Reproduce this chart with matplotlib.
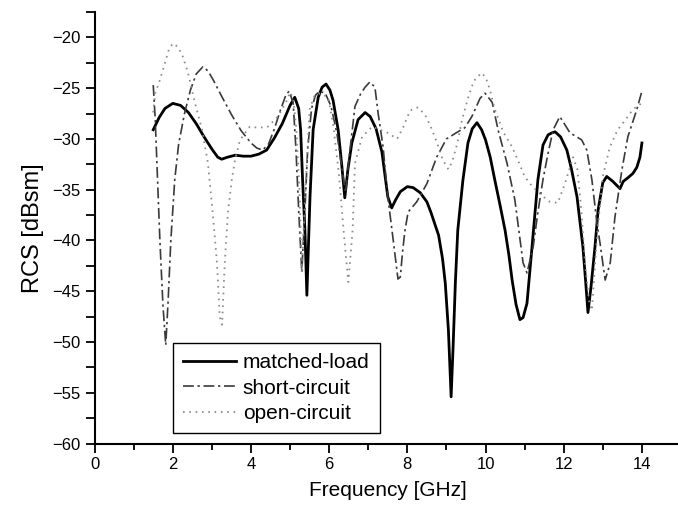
import matplotlib
matplotlib.use("Agg")
import matplotlib.pyplot as plt
from matplotlib.ticker import MultipleLocator

plt.rcParams['font.family'] = ['Liberation Sans', 'DejaVu Sans']

# matched-load
f_matched = [1.5, 1.65, 1.8, 2.0, 2.2, 2.4, 2.6, 2.8, 3.0, 3.15, 3.25, 3.4, 3.6, 3.8, 4.0,
             4.2, 4.4, 4.6, 4.8, 5.0, 5.12, 5.22, 5.27, 5.32, 5.38, 5.43, 5.47, 5.51, 5.59,
             5.72, 5.82, 5.92, 6.02, 6.1, 6.23, 6.32, 6.4, 6.48, 6.58, 6.74, 6.92, 7.05,
             7.2, 7.35, 7.5, 7.6, 7.7, 7.82, 8.0, 8.15, 8.33, 8.5, 8.6, 8.8, 8.9, 8.97,
             9.05, 9.12, 9.17, 9.23, 9.29, 9.42, 9.55, 9.66, 9.78, 9.9, 10.0, 10.12,
             10.24, 10.37, 10.5, 10.6, 10.68, 10.78, 10.88, 10.96, 11.06, 11.19, 11.34,
             11.47, 11.6, 11.7, 11.78, 11.92, 12.08, 12.2, 12.34, 12.49, 12.56, 12.62,
             12.7, 12.8, 12.88, 13.0, 13.1, 13.26, 13.44, 13.52, 13.65, 13.77, 13.87,
             13.95, 14.0]
rcs_matched = [-29.1, -27.9, -27.0, -26.5, -26.7, -27.4, -28.5, -29.8, -31.0, -31.8, -32.0,
               -31.8, -31.6, -31.7, -31.7, -31.5, -31.1, -29.9, -28.5, -26.7, -25.9, -27.0,
               -29.1, -34.0, -39.0, -45.4, -40.5, -35.7, -29.1, -25.9, -24.9, -24.6, -25.2,
               -26.2, -29.1, -32.5, -35.8, -33.0, -30.4, -28.1, -27.4, -27.8, -29.0, -31.3,
               -35.7, -36.8, -36.0, -35.2, -34.7, -34.8, -35.3, -36.2, -37.2, -39.5, -41.8,
               -44.2, -48.8, -55.4, -50.5, -44.0, -39.0, -34.1, -30.4, -29.0, -28.4, -29.1,
               -30.1, -31.8, -34.1, -36.5, -39.0, -41.5, -43.9, -46.3, -47.8, -47.6, -46.2,
               -40.6, -34.0, -30.6, -29.6, -29.4, -29.3, -29.8, -31.1, -33.0, -35.7, -40.6,
               -44.0, -47.1, -44.5, -40.6, -37.0, -34.3, -33.7, -34.2, -34.9, -34.2, -33.8,
               -33.4, -32.8, -31.8, -30.4]

# short-circuit
f_short = [1.5, 1.55, 1.6, 1.67, 1.75, 1.82, 1.88, 1.95, 2.05, 2.15, 2.3, 2.45, 2.6, 2.77,
           2.9, 3.05, 3.25, 3.5, 3.75, 4.0, 4.15, 4.3, 4.45, 4.6, 4.75, 4.9, 4.98, 5.08,
           5.15, 5.22, 5.3, 5.38, 5.45, 5.55, 5.65, 5.75, 5.9, 6.05, 6.2, 6.33, 6.42, 6.52,
           6.66, 6.8, 6.92, 7.04, 7.17, 7.25, 7.38, 7.5, 7.63, 7.76, 7.82, 7.88, 7.94, 8.02,
           8.24, 8.5, 8.75, 9.0, 9.25, 9.47, 9.65, 9.86, 9.99, 10.17, 10.32, 10.55, 10.75,
           10.96, 11.06, 11.22, 11.34, 11.47, 11.6, 11.73, 11.9, 12.16, 12.46, 12.59, 12.72,
           12.85, 12.93, 13.06, 13.19, 13.31, 13.49, 13.64, 13.87, 14.0]
rcs_short = [-24.7, -28.0, -33.0, -40.0, -46.5, -50.3, -46.0, -40.0, -34.0, -30.5, -27.5,
             -25.2, -23.6, -22.9, -23.3, -24.3, -25.8, -27.6, -29.2, -30.4, -30.9, -31.1,
             -30.5, -29.0, -27.2, -25.6, -25.3, -26.5, -31.0, -37.0, -43.1, -37.0, -31.0,
             -27.0, -25.7, -25.3, -25.5, -26.8, -29.5, -33.0, -35.3, -31.5, -26.8, -25.6,
             -24.9, -24.4, -24.9, -27.4, -30.8, -35.7, -39.7, -43.8, -43.6, -41.0, -39.0,
             -37.2, -36.2, -34.4, -31.8, -30.0, -29.4, -28.9, -27.8, -26.0, -25.5, -26.4,
             -29.1, -32.4, -36.0, -42.2, -43.2, -40.6, -37.2, -34.0, -31.4, -29.1, -27.8,
             -29.4, -30.1, -31.1, -34.0, -38.3, -40.3, -43.9, -42.2, -37.7, -33.0, -29.8,
             -27.1, -25.3]

# open-circuit
f_open = [1.5, 1.55, 1.67, 1.8, 1.9, 2.0, 2.12, 2.24, 2.39, 2.57, 2.75, 2.9, 3.03, 3.13,
          3.2, 3.26, 3.33, 3.41, 3.51, 3.59, 3.72, 3.97, 4.2, 4.43, 4.69, 4.92, 5.0, 5.08,
          5.16, 5.24, 5.3, 5.38, 5.5, 5.62, 5.77, 5.97, 6.1, 6.25, 6.38, 6.49, 6.6, 6.66,
          6.84, 7.1, 7.3, 7.5, 7.74, 7.9, 8.07, 8.27, 8.45, 8.6, 8.76, 8.9, 9.05, 9.15,
          9.28, 9.4, 9.55, 9.7, 9.89, 10.0, 10.1, 10.24, 10.45, 10.68, 10.85, 11.0, 11.2,
          11.45, 11.65, 11.85, 12.03, 12.24, 12.35, 12.45, 12.55, 12.65, 12.72, 12.85,
          13.0, 13.18, 13.38, 13.62, 13.77, 13.9, 14.0]
rcs_open = [-27.4, -25.5, -24.2, -22.5, -21.2, -20.6, -20.9, -21.7, -23.5, -26.5, -29.1,
            -32.4, -37.7, -42.2, -47.5, -48.3, -42.2, -37.3, -34.0, -32.1, -30.1, -28.8,
            -28.9, -28.8, -27.8, -26.2, -25.4, -26.0, -29.0, -35.0, -43.1, -36.0, -27.1,
            -25.8, -25.5, -25.9, -28.5, -33.5, -39.5, -44.1, -39.0, -32.4, -29.8, -28.8,
            -29.1, -29.4, -30.0, -28.8, -27.2, -26.9, -27.6, -28.8, -30.4, -32.0, -33.0,
            -32.2, -30.4, -28.1, -26.0, -24.3, -23.5, -23.9, -25.0, -27.1, -29.3, -30.8,
            -32.3, -33.7, -34.7, -35.6, -36.2, -36.3, -34.4, -31.8, -33.0, -37.0, -42.5,
            -46.0, -46.9, -39.6, -33.7, -30.8, -29.1, -27.9, -27.1, -26.7, -26.5]

fig = plt.figure(figsize=(6.78, 5.07), dpi=100)
ax = fig.add_axes([94.6 / 678, 63.5 / 507, 586.4 / 678, 431.5 / 507])

ax.plot(f_matched, rcs_matched, color='black', lw=2.0, label='matched-load')
ax.plot(f_short, rcs_short, color='#3a3a3a', lw=1.2,
        linestyle=(0, (6.5, 2.2, 1.4, 2.2)), label='short-circuit')
ax.plot(f_open, rcs_open, color='#8a8a8a', lw=1.3,
        linestyle=(0, (0.9, 2.6)), label='open-circuit')

ax.set_xlim(0, 15)
ax.set_ylim(-60, -17.5)
ax.xaxis.set_major_locator(MultipleLocator(2))
ax.xaxis.set_minor_locator(MultipleLocator(1))
ax.yaxis.set_major_locator(MultipleLocator(5))
ax.yaxis.set_minor_locator(MultipleLocator(2.5))

for s in ['top', 'right']:
    ax.spines[s].set_visible(False)
for s in ['left', 'bottom']:
    ax.spines[s].set_linewidth(1.5)

ax.tick_params(axis='both', which='major', direction='out', length=6.5, width=1.3,
               labelsize=12, colors='black')
ax.tick_params(axis='x', which='minor', direction='out', length=4.5, width=1.3)
ax.tick_params(axis='y', which='minor', direction='out', length=6.5, width=1.3)

ax.set_xlabel('Frequency [GHz]', fontsize=15, labelpad=6)
ax.set_ylabel('RCS [dBsm]', fontsize=17, labelpad=6)

leg = ax.legend(loc='upper left', bbox_to_anchor=(173 / 678, 1 - 343 / 507),
                bbox_transform=fig.transFigure, fontsize=15, frameon=True,
                fancybox=False, framealpha=1, edgecolor='black', handlelength=2.5,
                handletextpad=0.35, labelspacing=0.3, borderpad=0.5, borderaxespad=0)
leg.get_frame().set_linewidth(1.0)

fig.savefig('out.png', dpi=100)
